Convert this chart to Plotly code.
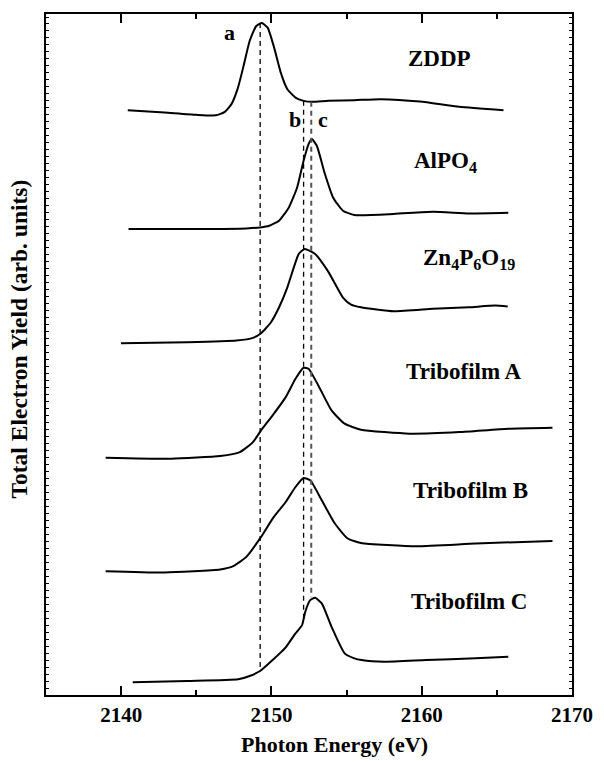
import plotly.graph_objects as go

# ---------------- data (photon energy in eV, yield in arb. units) ----------------
zddp_e = [2140.44, 2142.89, 2145.0, 2146.3, 2146.9, 2147.35, 2147.75, 2148.12, 2148.55, 2148.99, 2149.36,
          2149.75, 2150.18, 2150.62, 2151.06, 2151.6, 2152.14, 2152.69, 2153.78, 2155.52, 2157.27,
          2159.88, 2162.5, 2165.44]
zddp_y = [585.7, 583.3, 581, 580.5, 584, 592, 607, 628.3, 655, 670, 673,
          668.3, 648.3, 623.3, 606.7, 598.3, 595, 594, 595, 595.7, 596.7,
          594.3, 589, 585.7]

alpo4_e = [2140.49, 2145.07, 2148.33, 2149.25, 2149.86, 2150.51, 2151.16, 2151.71, 2152.14, 2152.47,
           2152.69, 2153.02, 2153.56, 2154.1, 2154.76, 2155.52, 2158.14, 2160.75, 2163.15, 2165.76]
alpo4_y = [466.7, 466.7, 467.3, 468.3, 470, 475, 488.3, 508.3, 535, 551.7,
           556.7, 550, 521.7, 498.3, 485, 480.7, 481.7, 484, 482.3, 483]

zn_e = [2139.99, 2144.41, 2147.68, 2148.77, 2149.31, 2149.97, 2150.51, 2151.06, 2151.6, 2151.82,
        2152.21, 2152.91, 2153.78, 2154.76, 2155.3, 2155.96, 2158.14, 2160.75, 2163.15,
        2164.89, 2165.72]
zn_y = [352.3, 353.3, 355, 357.7, 362.3, 373.3, 388.3, 408.3, 433.3, 441.7,
        446.7, 441.7, 424, 398, 391, 388.3, 384.3, 386.7, 388.3,
        390, 389]

triA_e = [2138.97, 2143.32, 2146.59, 2147.9, 2148.77, 2149.31, 2150.08, 2150.95, 2151.6, 2152.14,
          2152.47, 2153.12, 2154.0, 2154.87, 2155.96, 2159.2, 2162.5, 2165.76, 2168.7]
triA_y = [237.7, 236.7, 239.3, 243.3, 253.3, 265, 280, 298.3, 316.7, 327.7,
          326.7, 310, 285, 271.7, 265.7, 261.7, 263.3, 266.7, 267.7]

triB_e = [2138.97, 2142.89, 2146.59, 2147.46, 2148.33, 2149.31, 2150.08, 2150.95, 2151.6, 2152.14,
          2152.58, 2153.35, 2154.22, 2155.08, 2155.96, 2159.66, 2163.58, 2168.7]
triB_y = [124, 122.7, 125.7, 129, 138.3, 158.3, 176.7, 193.3, 208.3, 217.3,
          215, 195, 171.7, 156.7, 152.3, 149, 151.7, 154.3]

triC_e = [2140.77, 2144.41, 2147.79, 2148.55, 2149.27, 2150.08, 2150.95, 2151.6, 2152.04, 2152.25,
          2152.58, 2152.91, 2153.35, 2154.0, 2154.87, 2155.52, 2156.0, 2157.5, 2160.3, 2163.58, 2165.76]
triC_y = [12.7, 14, 15.7, 19, 24.3, 35, 47.7, 61.7, 70, 83.3,
          95, 97.3, 91.7, 68.3, 41.7, 36.7, 35, 33.3, 35, 36.7, 38.3]

series = [zddp_e, zddp_y], [alpo4_e, alpo4_y], [zn_e, zn_y], [triA_e, triA_y], [triB_e, triB_y], [triC_e, triC_y]

# peak markers a, b, c: energy, top yield, bottom yield
marker_names = ["a", "b", "c"]
marker_e = [2149.25, 2152.14, 2152.65]
marker_top = [673, 595, 594]
marker_bot = [24.3, 72, 98]

sample_labels = ["ZDDP", "AlPO<sub>4</sub>", "Zn<sub>4</sub>P<sub>6</sub>O<sub>19</sub>",
                 "Tribofilm A", "Tribofilm B", "Tribofilm C"]

x_ticks = [2140, 2150, 2160, 2170]

# ---------------- figure ----------------
FONT = "Liberation Serif"
fig = go.Figure()

for e, y in series:
    fig.add_trace(go.Scatter(x=e, y=y, mode="lines",
                             line=dict(color="black", width=2, shape="spline", smoothing=0.5),
                             showlegend=False, hoverinfo="skip"))

dash_styles = [("black", 1.3, "5px,4px"), ("black", 1.3, "5px,4px"), ("#555555", 2, "5px,4px")]
for e, t, b, (c, w, d) in zip(marker_e, marker_top, marker_bot, dash_styles):
    fig.add_trace(go.Scatter(x=[e, e], y=[t, b], mode="lines",
                             line=dict(color=c, width=w, dash=d),
                             showlegend=False, hoverinfo="skip"))

def bold(s):
    return "<b>" + s + "</b>"

# text annotations
lab_pos = [(2161.19, 637.7), (2161.6, 533.3), (2163.15, 436.7),
           (2162.82, 324), (2163.25, 205), (2163.15, 93.3)]
for txt, (x, y) in zip(sample_labels, lab_pos):
    fig.add_annotation(x=x, y=y, text=bold(txt), showarrow=False,
                       font=dict(family=FONT, size=23, color="black"))

mk_pos = [(2147.24, 663.3), (2151.56, 576.7), (2153.41, 576)]
for txt, (x, y) in zip(marker_names, mk_pos):
    fig.add_annotation(x=x, y=y, text=bold(txt), showarrow=False,
                       font=dict(family=FONT, size=22, color="black"))

fig.add_annotation(xref="paper", yref="paper", x=0.548, y=-0.073, text=bold("Photon Energy (eV)"),
                   showarrow=False, yanchor="middle",
                   font=dict(family=FONT, size=22, color="black"))
fig.add_annotation(xref="paper", yref="paper", x=-0.052, y=0.523,
                   text=bold("Total Electron Yield (arb. units)"), textangle=-90,
                   showarrow=False, xanchor="center", yanchor="middle",
                   font=dict(family=FONT, size=23.5, color="black"))

fig.update_layout(
    width=605, height=761,
    margin=dict(l=46, r=24, t=13, b=66),
    paper_bgcolor="white", plot_bgcolor="white",
    xaxis=dict(range=[2135, 2170], tickvals=x_ticks, ticktext=[bold(str(v)) for v in x_ticks],
               ticks="inside", ticklen=9, tickwidth=2,
               tickcolor="black", showline=True, linewidth=2, linecolor="black", mirror="ticks",
               showgrid=False, zeroline=False,
               minor=dict(tickvals=[2145, 2155, 2165], ticks="inside", ticklen=5, tickwidth=2,
                          tickcolor="black"),
               tickfont=dict(family=FONT, size=21, color="black")),
    yaxis=dict(range=[0, 682], showticklabels=False, ticks="inside", dtick=7, ticklen=3,
               tickwidth=1.2, tickcolor="black", showline=True, linewidth=2, linecolor="black",
               mirror="ticks", showgrid=False, zeroline=False),
)

fig.write_html("out.html")
